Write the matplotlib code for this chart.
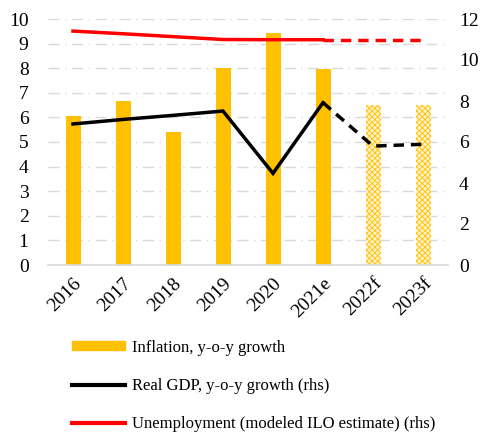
import matplotlib.pyplot as plt
import matplotlib.patches as patches
from matplotlib.lines import Line2D
import numpy as np

years = ['2016', '2017', '2018', '2019', '2020', '2021e', '2022f', '2023f']
inflation = [6.06, 6.65, 5.39, 8.0, 9.43, 7.97, 6.49, 6.49]
gdp = [6.88, 7.1, 7.3, 7.51, 4.47, 7.92, 5.8, 5.89]
unemp = [11.41, 11.28, 11.14, 11.0, 10.99, 10.99, 10.99, 10.99]
n_actual = 6  # first forecast index

plt.rcParams['font.family'] = ['Liberation Serif', 'DejaVu Serif']
plt.rcParams['hatch.linewidth'] = 0.6

fig = plt.figure(figsize=(4.86, 4.32), dpi=100)
ax1 = fig.add_axes([48/486, 1-265/432, 400/486, 246/432])
ax2 = ax1.twinx()

x = np.arange(len(years))
gold = '#FFC000'

# bars: actual solid, forecast hatched
ax1.bar(x[:n_actual], inflation[:n_actual], width=0.3, color=gold, zorder=2)
ax1.bar(x[n_actual:], inflation[n_actual:], width=0.3, facecolor='#FFF2CC',
        edgecolor=gold, hatch='xxxxxx', linewidth=0, zorder=2)

# lines on right axis
ax2.plot(x[:n_actual], gdp[:n_actual], color='black', lw=2.5, solid_joinstyle='miter')
ax2.plot(x[n_actual-1:], gdp[n_actual-1:], color='black', lw=2.5, ls=(0, (3, 2)))
ax2.plot(x[:n_actual], unemp[:n_actual], color='#FF0000', lw=2.5)
ax2.plot(x[n_actual-1:], unemp[n_actual-1:], color='#FF0000', lw=2.5, ls=(0, (3, 2)))

ax1.set_xlim(-0.5, len(years)-0.5)
ax1.set_ylim(0, 10)
ax2.set_ylim(0, 12)
ax1.set_yticks(range(0, 11))
ax2.set_yticks(range(0, 13, 2))

ax1.yaxis.grid(True, color='#D9D9D9', lw=1, ls=(0, (8, 4, 1, 4)))
ax1.set_axisbelow(True)

for ax in (ax1, ax2):
    for s in ax.spines.values():
        s.set_visible(False)
    ax.tick_params(length=0, labelsize=14)
ax1.spines['bottom'].set_visible(True)
ax1.spines['bottom'].set_color('#D9D9D9')
ax1.spines['bottom'].set_linewidth(1.2)

ax1.set_xticks(x)
ax1.set_xticklabels(years, rotation=45, ha='right', rotation_mode='anchor')
ax1.tick_params(axis='x', pad=7)
ax1.tick_params(axis='y', pad=14)
ax2.tick_params(axis='y', pad=8)

handles = [patches.Patch(color=gold),
           Line2D([0], [0], color='black', lw=3),
           Line2D([0], [0], color='#FF0000', lw=3)]
labels = ['Inflation, y-o-y growth', 'Real GDP, y-o-y growth (rhs)',
          'Unemployment (modeled ILO estimate) (rhs)']
leg = fig.legend(handles, labels, loc='upper left', bbox_to_anchor=(65/486, 1-333/432),
                 frameon=False, fontsize=12, handlelength=3.2, handleheight=0.45,
                 labelspacing=1.33, handletextpad=0.4, borderaxespad=0)

fig.savefig('out.png', dpi=100)
